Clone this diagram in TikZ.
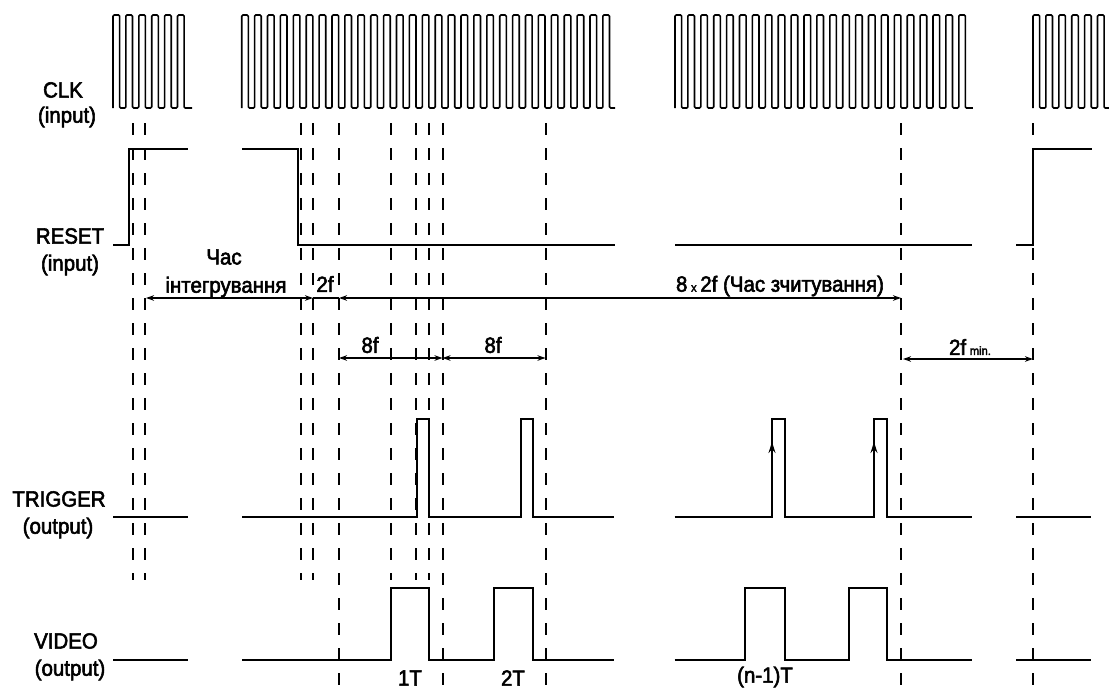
\documentclass[tikz,border=0pt]{standalone}
\usepackage{fontspec}
\setmainfont{Liberation Sans}[FakeStretch=0.93, FakeBold=2.5]
\usetikzlibrary{arrows.meta}
\tikzset{
  >={Stealth[length=8pt,width=5.5pt]},
  sig/.style={draw=black, line width=2pt},
  clk/.style={draw=black, line width=1.6pt, rounded corners=1.2pt},
  guide/.style={draw=black, line width=2pt, dash pattern=on 12pt off 13pt},
  dim/.style={draw=black, line width=1.3pt, <->},
  lbl/.style={font=\fontsize{22}{26}\selectfont, inner sep=0pt},
}
% one burst of clock pulses: start x, pulses, end x
\newcommand{\clkseg}[3]{%
  \draw[clk] (#1,108) \foreach \k in {1,...,#2}{
    -- ({#1+(\k-1)*12.9},15) -- ({#1+(\k-1)*12.9+6.6},15)
    -- ({#1+(\k-1)*12.9+6.6},108) -- ({#1+\k*12.9},108)} -- (#3,108);}

\begin{document}
\begin{tikzpicture}[x=1pt,y=-1pt]
  \useasboundingbox (0,0) rectangle (1109,693);
  % row names
  \node[lbl] (ClkName)   at (63,90)   {CLK};
  \node[lbl] (ClkDir)    at (67,117)  {(input)};
  \node[lbl] (ResetName) at (70,236)  {RESET};
  \node[lbl] (ResetDir)  at (70,265)  {(input)};
  \node[lbl] (TrigName)  at (59,499)  {TRIGGER};
  \node[lbl] (TrigDir)   at (58,528)  {(output)};
  \node[lbl] (VideoName) at (66,641)  {VIDEO};
  \node[lbl] (VideoDir)  at (70,670)  {(output)};
  % guide lines
  \foreach \x/\yb in {132.5/580, 145/580, 301/580, 313/580, 339/693, 391/580,
                      416/580, 429/580, 442.5/693, 545.5/693, 901/693, 1033/693}
    \draw[guide] (\x,123) -- (\x,\yb);
  % CLK
  \clkseg{113}{6}{192}
  \clkseg{241.7}{29}{615}
  \clkseg{675}{23}{972}
  \clkseg{1033}{6}{1109}
  % RESET
  \draw[sig] (113,245) -- (128.5,245) -- (128.5,149) -- (188,149);
  \draw[sig] (242,149) -- (298,149) -- (298,245) -- (615,245);
  \draw[sig] (675,245) -- (972,245);
  \draw[sig] (1016,245) -- (1033,245) -- (1033,149) -- (1092,149);
  % TRIGGER
  \draw[sig] (113,517) -- (188,517);
  \draw[sig] (242,517) -- (417,517) -- (417,419) -- (429,419) -- (429,517) -- (521,517)
    -- (521,419) -- (533,419) -- (533,517) -- (614,517);
  \draw[sig] (674.5,517) -- (772,517) -- (772,419) -- (785,419) -- (785,517) -- (874,517)
    -- (874,419) -- (887,419) -- (887,517) -- (972,517);
  \draw[sig] (1016,517) -- (1091,517);
  \draw[line width=1pt, -{Stealth[length=11pt,width=7pt]}] (772,470) -- (772,442);
  \draw[line width=1pt, -{Stealth[length=11pt,width=7pt]}] (874,470) -- (874,442);
  % VIDEO
  \draw[sig] (113,660) -- (188,660);
  \draw[sig] (242,660) -- (391,660) -- (391,588) -- (429,588) -- (429,660) -- (494,660)
    -- (494,588) -- (533,588) -- (533,660) -- (614,660);
  \draw[sig] (674.5,660) -- (745,660) -- (745,588) -- (785,588) -- (785,660) -- (849,660)
    -- (849,588) -- (887,588) -- (887,660) -- (972,660);
  \draw[sig] (1016,660) -- (1091,660);
  % timing marks
  \draw[dim] (146,298) -- (313,298);
  \draw[line width=1.3pt] (313,298) -- (339,298);
  \draw[dim] (339,298) -- (901,298);
  \draw[dim] (339,358) -- (442.5,358);
  \draw[dim] (442.5,358) -- (545.5,358);
  \draw[dim] (903,359) -- (1033,359);
  \node[lbl] (IntTop)   at (224,257) {Час};
  \node[lbl] (IntBot)   at (226,287) {інтегрування};
  \node[lbl] (TwoF)     at (325,284) {2f};
  \node[lbl] (ReadTime) at (780,286) {8\,{\fontsize{12}{14}\selectfont x}\,2f (Час зчитування)};
  \node[lbl] (EightA)   at (370,345) {8f};
  \node[lbl] (EightB)   at (493,345) {8f};
  \node[lbl] (TwoFMin)  at (970,347) {2f\,{\fontsize{12}{14}\selectfont min.}};
  \node[lbl] (OneT)     at (410,678) {1T};
  \node[lbl] (TwoT)     at (513,678) {2T};
  \node[lbl] (NthT)     at (765,677) {(n-1)T};
\end{tikzpicture}
\end{document}
